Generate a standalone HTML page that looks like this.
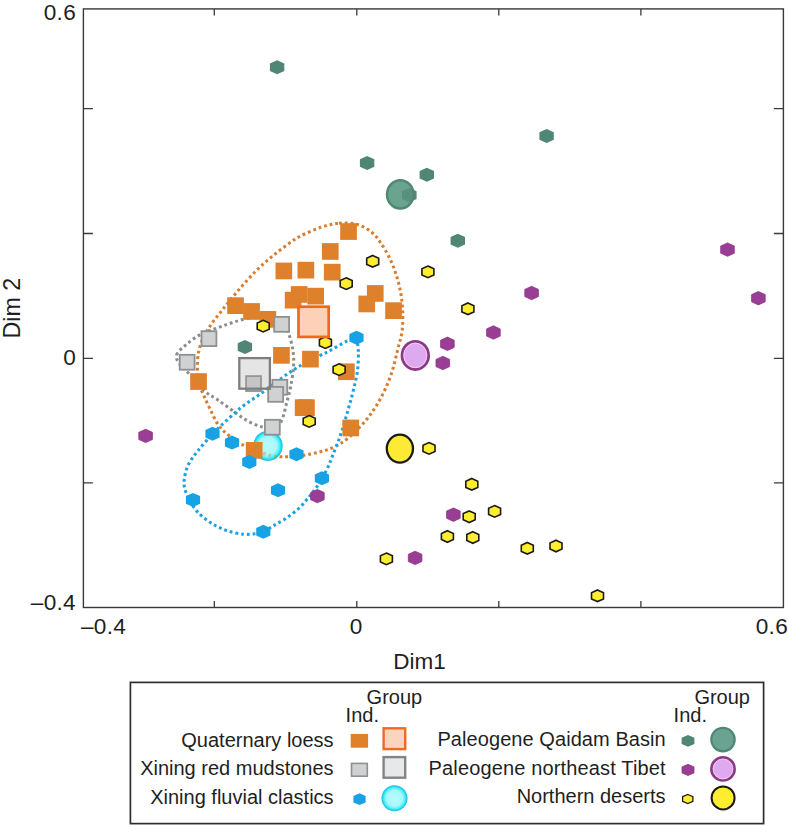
<!DOCTYPE html>
<html lang="en"><head><meta charset="utf-8"><title>MDS plot</title>
<style>html,body{margin:0;padding:0;background:#fff}svg{display:block}text{font-family:"Liberation Sans",Arial,Helvetica,sans-serif;fill:#1f1f1f}</style></head><body>
<svg width="788" height="825" viewBox="0 0 788 825">
<defs><radialGradient id="cy" cx="50%" cy="50%" r="50%"><stop offset="0" stop-color="#b8fbfd"/><stop offset="0.6" stop-color="#a9f8fb"/><stop offset="0.78" stop-color="#62f0f7"/><stop offset="0.89" stop-color="#1fe2f3"/><stop offset="1" stop-color="#1bb4e3"/></radialGradient></defs>
<rect width="788" height="825" fill="#fff"/>
<rect x="83.4" y="8.9" width="700.0" height="598.6" fill="none" stroke="#3a3a3a" stroke-width="1.4"/>
<path d="M214.3,8.9v6.5M214.3,607.5v-6.5M356.8,8.9v6.5M356.8,607.5v-6.5M498.8,8.9v6.5M498.8,607.5v-6.5M640.9,8.9v6.5M640.9,607.5v-6.5M83.4,108.6h9.5M783.4,108.6h-9.5M83.4,233.5h9.5M783.4,233.5h-9.5M83.4,358.3h9.5M783.4,358.3h-9.5M83.4,482.8h9.5M783.4,482.8h-9.5" stroke="#3a3a3a" stroke-width="1.3" fill="none"/>
<g font-size="22.6" letter-spacing="0.3">
<text x="76" y="20.3" text-anchor="end">0.6</text>
<text x="76" y="365.3" text-anchor="end">0</text>
<text x="76" y="609.5" text-anchor="end">–0.4</text>
<text x="81" y="634.4">–0.4</text>
<text x="356.3" y="634.4" text-anchor="middle">0</text>
<text x="788" y="634.4" text-anchor="end">0.6</text>
<text x="419.5" y="669" text-anchor="middle" font-size="22.5" letter-spacing="0">Dim1</text>
<text transform="translate(20.1,308.2) rotate(-90)" text-anchor="middle" font-size="23.2" letter-spacing="0">Dim 2</text>
</g>
<ellipse cx="267.9" cy="445.9" rx="14.6" ry="14.9" fill="url(#cy)"/>
<path d="M339.0,223.2 C345.1,222.7 352.0,222.9 357.5,224.5 C363.0,226.1 368.1,229.4 372.0,232.5 C375.9,235.6 378.0,238.9 381.0,243.3 C384.0,247.7 387.4,253.4 390.0,258.8 C392.6,264.2 394.6,269.9 396.4,275.5 C398.2,281.1 399.6,286.7 400.7,292.7 C401.8,298.7 402.5,305.0 402.7,311.5 C402.9,318.0 402.9,325.3 402.0,331.8 C401.1,338.3 399.1,343.8 397.5,350.3 C395.9,356.8 394.4,364.2 392.4,370.6 C390.4,377.0 388.0,383.0 385.3,388.9 C382.6,394.8 379.5,400.7 376.1,406.1 C372.7,411.5 369.6,416.1 365.0,421.4 C360.4,426.6 353.8,433.4 348.7,437.6 C343.6,441.8 339.2,444.4 334.5,446.8 C329.8,449.2 325.7,450.4 320.3,451.8 C314.9,453.2 308.5,454.7 302.1,455.5 C295.7,456.3 287.7,457.0 281.8,456.8 C275.9,456.6 273.4,456.4 266.6,454.3 C259.8,452.2 247.5,447.3 241.2,444.1 C234.8,440.9 232.3,438.4 228.5,435.2 C224.7,432.0 221.4,429.2 218.4,425.0 C215.4,420.8 212.9,414.9 210.5,410.0 C208.1,405.1 205.7,400.0 203.7,395.3 C201.7,390.6 199.6,387.4 198.6,381.6 C197.6,375.9 197.3,367.0 197.6,360.8 C197.9,354.6 198.7,350.0 200.6,344.5 C202.5,339.0 205.2,333.6 208.8,327.9 C212.4,322.2 217.3,316.3 222.2,310.1 C227.1,303.9 232.6,297.1 238.2,290.6 C243.8,284.1 250.0,276.9 255.9,271.0 C261.8,265.1 267.8,260.0 273.7,255.1 C279.6,250.2 286.9,244.9 291.4,241.7 C295.9,238.5 295.6,238.4 300.5,236.0 C305.4,233.6 314.5,229.4 320.9,227.3 C327.3,225.2 332.9,223.7 339.0,223.2Z" fill="none" stroke="#d97c2c" stroke-width="3.05" stroke-dasharray="2.8 2.95"/>
<path d="M176.5,355.0 C177.5,351.6 182.4,347.9 186.4,344.5 C190.4,341.1 195.2,337.2 200.6,334.4 C206.0,331.6 212.3,329.8 218.6,327.5 C224.9,325.2 231.6,322.6 238.2,320.8 C244.8,319.0 251.9,316.9 258.0,316.5 C264.1,316.1 270.5,316.8 275.0,318.5 C279.5,320.2 282.6,324.1 285.0,327.0 C287.4,329.9 288.2,332.1 289.5,336.0 C290.8,339.9 292.3,345.5 293.0,350.6 C293.7,355.8 293.9,360.8 293.5,366.9 C293.1,373.0 291.7,381.1 290.5,387.2 C289.3,393.3 287.9,398.0 286.5,403.4 C285.1,408.8 283.9,415.6 282.0,419.6 C280.1,423.6 278.4,426.3 275.0,427.5 C271.6,428.7 266.4,428.1 261.5,426.8 C256.6,425.5 250.4,422.5 245.3,419.6 C240.2,416.7 235.8,412.9 231.1,409.5 C226.4,406.1 221.3,402.4 216.9,399.3 C212.5,396.2 209.1,395.2 204.7,391.2 C200.3,387.1 194.6,379.4 190.5,375.0 C186.4,370.6 182.6,368.1 180.3,364.8 C178.0,361.5 175.5,358.4 176.5,355.0Z" fill="none" stroke="#8c8c8c" stroke-width="3.05" stroke-dasharray="2.8 2.95"/>
<path d="M356.5,337.8 C356.8,339.9 358.1,344.8 358.3,350.3 C358.5,355.8 358.4,363.8 357.5,370.6 C356.6,377.4 354.8,384.1 353.2,390.9 C351.6,397.7 349.8,403.8 347.7,411.2 C345.6,418.6 342.9,427.9 340.4,435.4 C337.9,442.8 334.6,450.4 332.5,455.9 C330.4,461.4 329.3,464.4 327.5,468.2 C325.7,471.9 323.6,475.4 321.9,478.4 C320.2,481.4 319.4,483.1 317.4,486.0 C315.4,488.9 312.7,492.5 309.7,496.1 C306.7,499.7 303.4,504.0 299.6,507.6 C295.8,511.2 291.1,514.8 286.9,517.7 C282.7,520.7 278.1,523.0 274.2,525.3 C270.3,527.6 266.3,530.3 263.3,531.7 C260.3,533.1 259.6,533.1 256.4,533.5 C253.1,533.9 248.9,534.7 243.8,534.2 C238.7,533.7 231.5,532.3 226.0,530.4 C220.5,528.5 215.5,525.8 210.8,522.8 C206.2,519.8 201.6,516.2 198.1,512.6 C194.6,509.0 192.1,504.6 190.0,501.0 C187.9,497.4 186.5,494.4 185.5,491.0 C184.5,487.6 183.7,485.1 184.1,480.9 C184.5,476.7 185.6,470.8 187.9,465.7 C190.2,460.6 194.0,455.8 198.1,450.5 C202.2,445.2 208.7,438.1 212.5,434.0 C216.3,429.9 216.1,430.1 220.9,425.7 C225.7,421.3 234.4,412.9 241.2,407.5 C248.0,402.1 254.7,398.1 261.5,393.2 C268.3,388.3 275.4,382.6 281.8,378.0 C288.2,373.4 293.7,369.6 300.1,365.8 C306.5,362.0 315.2,358.0 320.3,355.4 C325.4,352.8 326.1,352.7 330.5,350.3 C334.9,347.9 342.4,343.3 346.7,341.2 C351.0,339.1 354.9,338.4 356.5,337.8" fill="none" stroke="#18a2e6" stroke-width="3.05" stroke-dasharray="2.8 2.95"/>
<ellipse cx="267.9" cy="445.9" rx="14.6" ry="14.9" fill="url(#cy)" fill-opacity="0.55"/>
<g fill="#df812b">
<rect x="340.2" y="223.2" width="16.7" height="16.7"/>
<rect x="321.9" y="243.1" width="16.7" height="16.7"/>
<rect x="275.5" y="262.6" width="16.7" height="16.7"/>
<rect x="297.5" y="261.8" width="16.7" height="16.7"/>
<rect x="323.9" y="263.8" width="16.7" height="16.7"/>
<rect x="284.8" y="291.8" width="16.7" height="16.7"/>
<rect x="290.8" y="286.1" width="16.7" height="16.7"/>
<rect x="307.3" y="287.8" width="16.7" height="16.7"/>
<rect x="366.9" y="285.1" width="16.7" height="16.7"/>
<rect x="358.4" y="295.6" width="16.7" height="16.7"/>
<rect x="385.2" y="302.3" width="16.7" height="16.7"/>
<rect x="227.2" y="297.3" width="16.7" height="16.7"/>
<rect x="243.2" y="303.1" width="16.7" height="16.7"/>
<rect x="259.5" y="311.0" width="16.7" height="16.7"/>
<rect x="273.1" y="347.0" width="16.7" height="16.7"/>
<rect x="302.1" y="350.8" width="16.7" height="16.7"/>
<rect x="338.0" y="363.4" width="16.7" height="16.7"/>
<rect x="190.2" y="373.2" width="16.7" height="16.7"/>
<rect x="294.8" y="399.3" width="16.7" height="16.7"/>
<rect x="298.1" y="399.3" width="16.7" height="16.7"/>
<rect x="342.4" y="419.6" width="16.7" height="16.7"/>
<rect x="245.8" y="442.0" width="16.7" height="16.7"/>
</g>
<g fill="#d0d1d3" stroke="#8f9092" stroke-width="1.8">
<rect x="201.5" y="331.2" width="14.9" height="14.9"/>
<rect x="179.7" y="354.8" width="14.9" height="14.9"/>
<rect x="274.2" y="316.9" width="14.9" height="14.9"/>
<rect x="272.4" y="379.8" width="14.9" height="14.9"/>
<rect x="268.2" y="386.9" width="14.9" height="14.9"/>
<rect x="246.1" y="376.1" width="14.9" height="14.9"/>
<rect x="264.9" y="419.8" width="14.9" height="14.9"/>
</g>
<g fill="#18a2e6">
<polygon points="356.5,330.8 363.6,334.0 363.6,341.6 356.5,344.8 349.4,341.6 349.4,334.0"/>
<polygon points="212.5,426.8 219.6,430.0 219.6,437.6 212.5,440.8 205.4,437.6 205.4,430.0"/>
<polygon points="232.0,435.6 239.1,438.8 239.1,446.4 232.0,449.6 224.9,446.4 224.9,438.8"/>
<polygon points="249.3,454.9 256.4,458.1 256.4,465.7 249.3,468.9 242.2,465.7 242.2,458.1"/>
<polygon points="296.5,447.3 303.6,450.5 303.6,458.1 296.5,461.3 289.4,458.1 289.4,450.5"/>
<polygon points="321.9,471.3 329.0,474.5 329.0,482.1 321.9,485.3 314.8,482.1 314.8,474.5"/>
<polygon points="278.0,483.3 285.1,486.5 285.1,494.1 278.0,497.3 270.9,494.1 270.9,486.5"/>
<polygon points="193.0,492.9 200.1,496.1 200.1,503.7 193.0,506.9 185.9,503.7 185.9,496.1"/>
<polygon points="263.3,524.7 270.4,527.9 270.4,535.5 263.3,538.7 256.2,535.5 256.2,527.9"/>
</g>
<g fill="#4f8675">
<polygon points="277.1,60.2 284.3,63.4 284.3,71.0 277.1,74.2 269.9,71.0 269.9,63.4"/>
<polygon points="367.1,156.0 374.3,159.2 374.3,166.8 367.1,170.0 359.9,166.8 359.9,159.2"/>
<polygon points="426.8,167.8 434.0,171.0 434.0,178.6 426.8,181.8 419.6,178.6 419.6,171.0"/>
<polygon points="546.6,129.0 553.8,132.2 553.8,139.8 546.6,143.0 539.4,139.8 539.4,132.2"/>
<polygon points="457.8,233.7 465.0,236.9 465.0,244.5 457.8,247.7 450.6,244.5 450.6,236.9"/>
<polygon points="244.9,340.0 252.1,343.2 252.1,350.8 244.9,354.0 237.7,350.8 237.7,343.2"/>
<polygon points="409.2,188.1 416.4,191.3 416.4,198.9 409.2,202.1 402.0,198.9 402.0,191.3"/>
</g>
<g fill="#993e94" stroke="#8b3686" stroke-width="0.8">
<polygon points="727.5,242.9 734.3,246.0 734.3,253.2 727.5,256.3 720.7,253.2 720.7,246.0"/>
<polygon points="758.4,291.5 765.2,294.6 765.2,301.8 758.4,304.9 751.6,301.8 751.6,294.6"/>
<polygon points="531.6,286.3 538.4,289.4 538.4,296.6 531.6,299.7 524.8,296.6 524.8,289.4"/>
<polygon points="493.4,325.8 500.2,328.9 500.2,336.1 493.4,339.2 486.6,336.1 486.6,328.9"/>
<polygon points="447.4,337.1 454.2,340.2 454.2,347.4 447.4,350.5 440.6,347.4 440.6,340.2"/>
<polygon points="442.8,356.3 449.6,359.4 449.6,366.6 442.8,369.7 436.0,366.6 436.0,359.4"/>
<polygon points="145.6,429.2 152.4,432.3 152.4,439.5 145.6,442.6 138.8,439.5 138.8,432.3"/>
<polygon points="317.4,489.4 324.2,492.5 324.2,499.7 317.4,502.8 310.6,499.7 310.6,492.5"/>
<polygon points="453.4,508.0 460.2,511.1 460.2,518.3 453.4,521.4 446.6,518.3 446.6,511.1"/>
<polygon points="415.1,551.2 421.9,554.3 421.9,561.5 415.1,564.6 408.3,561.5 408.3,554.3"/>
</g>
<g fill="#ffee30" stroke="#1c1a16" stroke-width="1.6" stroke-linejoin="miter">
<polygon points="372.7,255.5 378.7,258.2 378.7,264.4 372.7,267.1 366.7,264.4 366.7,258.2"/>
<polygon points="427.9,266.1 433.9,268.8 433.9,275.0 427.9,277.7 421.9,275.0 421.9,268.8"/>
<polygon points="346.2,277.8 352.2,280.5 352.2,286.7 346.2,289.4 340.2,286.7 340.2,280.5"/>
<polygon points="467.9,303.0 473.9,305.7 473.9,311.9 467.9,314.6 461.9,311.9 461.9,305.7"/>
<polygon points="263.2,320.3 269.2,323.0 269.2,329.2 263.2,331.9 257.2,329.2 257.2,323.0"/>
<polygon points="325.4,336.8 331.4,339.5 331.4,345.7 325.4,348.4 319.4,345.7 319.4,339.5"/>
<polygon points="339.1,363.8 345.1,366.5 345.1,372.7 339.1,375.4 333.1,372.7 333.1,366.5"/>
<polygon points="309.2,415.6 315.2,418.3 315.2,424.5 309.2,427.2 303.2,424.5 303.2,418.3"/>
<polygon points="429.0,442.6 435.0,445.3 435.0,451.5 429.0,454.2 423.0,451.5 423.0,445.3"/>
<polygon points="471.8,478.5 477.8,481.2 477.8,487.4 471.8,490.1 465.8,487.4 465.8,481.2"/>
<polygon points="469.2,510.9 475.2,513.6 475.2,519.8 469.2,522.5 463.2,519.8 463.2,513.6"/>
<polygon points="494.6,505.6 500.6,508.3 500.6,514.5 494.6,517.2 488.6,514.5 488.6,508.3"/>
<polygon points="447.4,530.7 453.4,533.4 453.4,539.6 447.4,542.3 441.4,539.6 441.4,533.4"/>
<polygon points="472.8,531.7 478.8,534.4 478.8,540.6 472.8,543.3 466.8,540.6 466.8,534.4"/>
<polygon points="386.4,553.1 392.4,555.8 392.4,562.0 386.4,564.7 380.4,562.0 380.4,555.8"/>
<polygon points="527.3,542.5 533.3,545.2 533.3,551.4 527.3,554.1 521.3,551.4 521.3,545.2"/>
<polygon points="556.0,540.2 562.0,542.9 562.0,549.1 556.0,551.8 550.0,549.1 550.0,542.9"/>
<polygon points="597.5,590.0 603.5,592.7 603.5,598.9 597.5,601.6 591.5,598.9 591.5,592.7"/>
</g>
<rect x="239.3" y="358.1" width="30.6" height="30.6" fill="#a8a8a8" fill-opacity="0.3" stroke="#7e7e7e" stroke-width="2.3"/>
<rect x="298.5" y="306.7" width="30.2" height="30.2" fill="#fccdb2" fill-opacity="0.92" stroke="#f2671a" stroke-width="2.7"/>
<ellipse cx="400.3" cy="194.4" rx="13.3" ry="14.1" fill="#6aa38e"/>
<polygon points="409.2,188.1 416.4,191.3 416.4,198.9 409.2,202.1 402.0,198.9 402.0,191.3" fill="#55897a" fill-opacity="0.8"/>
<ellipse cx="400.3" cy="194.4" rx="13.3" ry="14.1" fill="none" stroke="#4f8874" stroke-width="2.4"/>
<ellipse cx="415.3" cy="355.4" rx="13.3" ry="14.1" fill="#dfa9f0" stroke="#8b3a85" stroke-width="2.8"/>
<ellipse cx="415.3" cy="355.4" rx="11.5" ry="12.3" fill="none" stroke="#f3d3ee" stroke-width="0.9"/>
<ellipse cx="399.9" cy="448.6" rx="13.1" ry="14" fill="#fdea35" stroke="#1c1a16" stroke-width="2.3"/>
<rect x="130.4" y="682.4" width="633.2" height="141.2" fill="#fff" stroke="#2e2e2e" stroke-width="1.7"/>
<g font-size="20">
<text x="394.4" y="704.4" text-anchor="middle">Group</text>
<text x="345.6" y="722">Ind.</text>
<text x="722.2" y="704.4" text-anchor="middle">Group</text>
<text x="673.6" y="722">Ind.</text>
<text x="333.6" y="747.2" text-anchor="end">Quaternary loess</text>
<text x="333.6" y="775" text-anchor="end">Xining red mudstones</text>
<text x="333.6" y="804" text-anchor="end">Xining fluvial clastics</text>
<text x="665.8" y="746.4" text-anchor="end" letter-spacing="0.07">Paleogene Qaidam Basin</text>
<text x="665.8" y="775" text-anchor="end" letter-spacing="0.15">Paleogene northeast Tibet</text>
<text x="665.6" y="803.4" text-anchor="end">Northern deserts</text>
</g>
<rect x="350.7" y="733.9" width="17.4" height="13.8" fill="#df812b"/>
<rect x="351.5" y="763.4" width="15.8" height="12.8" fill="#d0d1d3" stroke="#8f9092" stroke-width="1.6"/>
<polygon points="359.5,793.3 365.6,796.0 365.6,802.4 359.5,805.1 353.4,802.4 353.4,796.0" fill="#18a2e6"/>
<rect x="383.6" y="728.3" width="21.6" height="20.8" fill="#fcd3bc" stroke="#f26a1f" stroke-width="2.4"/>
<rect x="383.6" y="757.1" width="21.6" height="20.6" fill="#e7e8e9" stroke="#838486" stroke-width="2.4"/>
<circle cx="394.5" cy="798.3" r="13" fill="url(#cy)"/>
<polygon points="688.0,735.0 694.4,737.7 694.4,744.1 688.0,746.8 681.6,744.1 681.6,737.7" fill="#4f8675"/>
<polygon points="688.0,764.3 694.0,766.9 694.0,772.9 688.0,775.5 682.0,772.9 682.0,766.9" fill="#993e94" stroke="#8b3686" stroke-width="0.8"/>
<polygon points="687.8,794.5 692.9,796.6 692.9,801.4 687.8,803.5 682.6,801.4 682.6,796.6" fill="#ffee30" stroke="#1c1a16" stroke-width="1.3"/>
<circle cx="723" cy="739.6" r="11.7" fill="#6aa391" stroke="#4d8875" stroke-width="2.2"/>
<circle cx="723" cy="768.9" r="11.6" fill="#dfa9f0" stroke="#8b3a85" stroke-width="2.7"/><circle cx="723" cy="768.9" r="9.9" fill="none" stroke="#f3d3ee" stroke-width="0.8"/>
<circle cx="723.1" cy="797.9" r="11.5" fill="#ffee30" stroke="#1c1a16" stroke-width="2"/>
</svg></body></html>
